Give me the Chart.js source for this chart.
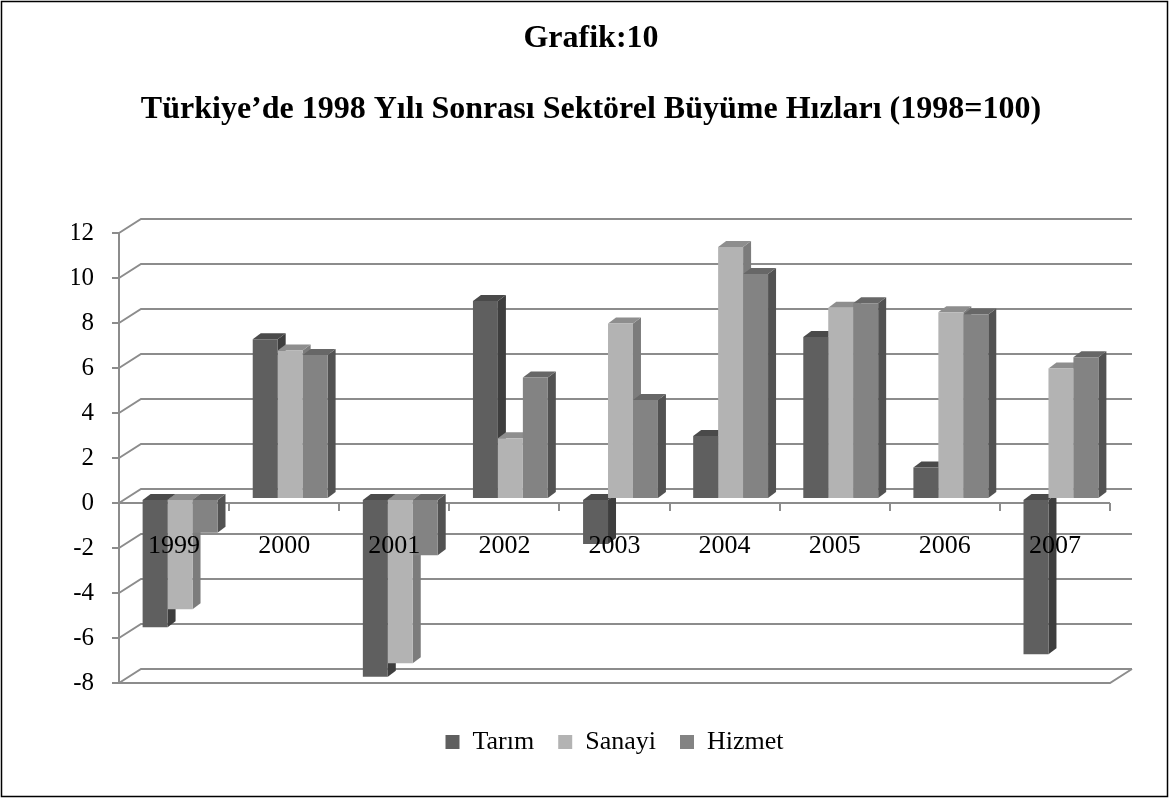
<!DOCTYPE html>
<html>
<head>
<meta charset="utf-8">
<script src="https://cdn.jsdelivr.net/npm/chart.js@4/dist/chart.umd.min.js"></script>
<style>
  html, body { margin: 0; padding: 0; background: #ffffff; }
  canvas { display: block; }
</style>
</head>
<body>
<canvas id="c" width="1169" height="798"></canvas>
<script>
// ---- data ----
const years = ['1999', '2000', '2001', '2002', '2003', '2004', '2005', '2006', '2007'];
const tarim  = [-5.7, 7.1, -7.9, 8.8, -2.0, 2.8, 7.2, 1.4, -6.9];
const sanayi = [-4.9, 6.6, -7.3, 2.7, 7.8, 11.2, 8.5, 8.3, 5.8];
const hizmet = [-1.5, 6.4, -2.5, 5.4, 4.4, 10.0, 8.7, 8.2, 6.3];
const seriesNames = ['Tarım', 'Sanayi', 'Hizmet'];
const titleText = 'Grafik:10';
const subtitleText = 'Türkiye’de 1998 Yılı Sonrası Sektörel Büyüme Hızları (1998=100)';
const yMin = -8, yMax = 12, yStep = 2;

// ---- styles ----
const frontColors = ['#5f5f5f', '#b3b3b3', '#838383'];
const topColors   = ['#4a4a4a', '#8e8e8e', '#676767'];
const sideColors  = ['#3e3e3e', '#7c7c7c', '#525252'];
const gridColor = '#8c8c8c';
const WALL_DX = 22, WALL_DY = -14;   // back wall offset
const BAR_DX = 6, BAR_DY = -4;       // bar front-face offset from front plane
const DEPTH_DX = 8, DEPTH_DY = -6;   // bar depth

Chart.defaults.font.family = "'Liberation Serif', 'Times New Roman', serif";
Chart.defaults.color = '#000000';

const threeD = {
  id: 'threeD',
  beforeDatasetsDraw(chart) {
    const ctx = chart.ctx;
    const ys = chart.scales.y;
    const L = chart.chartArea.left, R = chart.chartArea.right;
    ctx.save();
    ctx.strokeStyle = gridColor;
    ctx.lineWidth = 2;
    ctx.lineCap = 'butt';
    // back wall gridlines + left diagonals
    for (let v = yMin; v <= yMax; v += yStep) {
      const py = Math.round(ys.getPixelForValue(v));
      ctx.beginPath();
      ctx.moveTo(L, py);
      ctx.lineTo(L + WALL_DX, py + WALL_DY);
      ctx.lineTo(R + WALL_DX, py + WALL_DY);
      ctx.stroke();
    }
    // floor front edge + right diagonal
    const pf = Math.round(ys.getPixelForValue(yMin));
    ctx.beginPath();
    ctx.moveTo(L, pf);
    ctx.lineTo(R, pf);
    ctx.lineTo(R + WALL_DX, pf + WALL_DY);
    ctx.stroke();
    // front zero line
    const p0 = Math.round(ys.getPixelForValue(0));
    ctx.beginPath();
    ctx.moveTo(L, p0);
    ctx.lineTo(R, p0);
    ctx.stroke();
    ctx.restore();

    // translate for bar front faces and draw 3D extrusions
    ctx.save();
    ctx.translate(BAR_DX, BAR_DY);
    const metas = chart.data.datasets.map((d, i) => chart.getDatasetMeta(i));
    const n = chart.data.labels.length;
    for (let i = 0; i < n; i++) {
      metas.forEach((meta, d) => {
        const el = meta.data[i];
        if (!el) return;
        const l = el.x - el.width / 2, r = el.x + el.width / 2;
        const top = Math.min(el.y, el.base), bot = Math.max(el.y, el.base);
        // side face
        ctx.fillStyle = sideColors[d];
        ctx.beginPath();
        ctx.moveTo(r, top);
        ctx.lineTo(r + DEPTH_DX, top + DEPTH_DY);
        ctx.lineTo(r + DEPTH_DX, bot + DEPTH_DY);
        ctx.lineTo(r, bot);
        ctx.closePath();
        ctx.fill();
        // top face
        ctx.fillStyle = topColors[d];
        ctx.beginPath();
        ctx.moveTo(l, top);
        ctx.lineTo(r, top);
        ctx.lineTo(r + DEPTH_DX, top + DEPTH_DY);
        ctx.lineTo(l + DEPTH_DX, top + DEPTH_DY);
        ctx.closePath();
        ctx.fill();
      });
    }
  },
  afterDatasetsDraw(chart) {
    chart.ctx.restore();
  },
  afterDraw(chart) {
    const ctx = chart.ctx;
    ctx.save();
    ctx.strokeStyle = '#000000';
    ctx.lineWidth = 1.5;
    ctx.strokeRect(1.5, 1.5, chart.width - 3, chart.height - 3);
    ctx.restore();
  }
};

const seriesValues = [tarim, sanayi, hizmet];
new Chart(document.getElementById('c'), {
  type: 'bar',
  data: {
    labels: years,
    datasets: seriesValues.map((vals, d) => ({
      label: seriesNames[d],
      data: vals,
      backgroundColor: frontColors[d],
      borderWidth: 0,
      categoryPercentage: 0.68,
      barPercentage: 1.0,
      clip: false
    }))
  },
  options: {
    responsive: false,
    animation: false,
    devicePixelRatio: 1,
    layout: { padding: { left: 72, right: 59, top: 0, bottom: 33 } },
    plugins: {
      title: {
        display: true,
        text: titleText,
        color: '#000000',
        font: { size: 32, weight: 'bold' },
        padding: { top: 20, bottom: 32.4 }
      },
      subtitle: {
        display: true,
        text: subtitleText,
        color: '#000000',
        font: { size: 32, weight: 'bold' },
        padding: { top: 0, bottom: 103.8 }
      },
      legend: {
        position: 'bottom',
        fullSize: false,
        title: { display: true, text: '', font: { size: 10 }, padding: { top: 10, bottom: 0 } },
        labels: {
          color: '#000000',
          font: { size: 26 },
          boxWidth: 14,
          boxHeight: 14,
          padding: 24
        }
      },
      tooltip: { enabled: false }
    },
    scales: {
      x: {
        type: 'category',
        position: { y: 0 },
        offset: true,
        grid: { display: true, drawOnChartArea: false, drawTicks: true, tickLength: 8, color: gridColor, lineWidth: 2, offset: true, z: -1 },
        border: { display: false },
        ticks: { z: 1, font: { size: 26 }, color: '#000000', padding: 20, maxRotation: 0, autoSkip: false }
      },
      y: {
        min: yMin,
        max: yMax,
        afterFit(scale) { scale.width = 47; },
        grid: { display: true, drawOnChartArea: false, drawTicks: true, tickLength: 7, color: gridColor, lineWidth: 2 },
        border: { display: true, color: gridColor, width: 2 },
        ticks: { stepSize: yStep, font: { size: 25 }, color: '#000000', padding: 18 }
      }
    }
  },
  plugins: [threeD]
});
</script>
</body>
</html>
